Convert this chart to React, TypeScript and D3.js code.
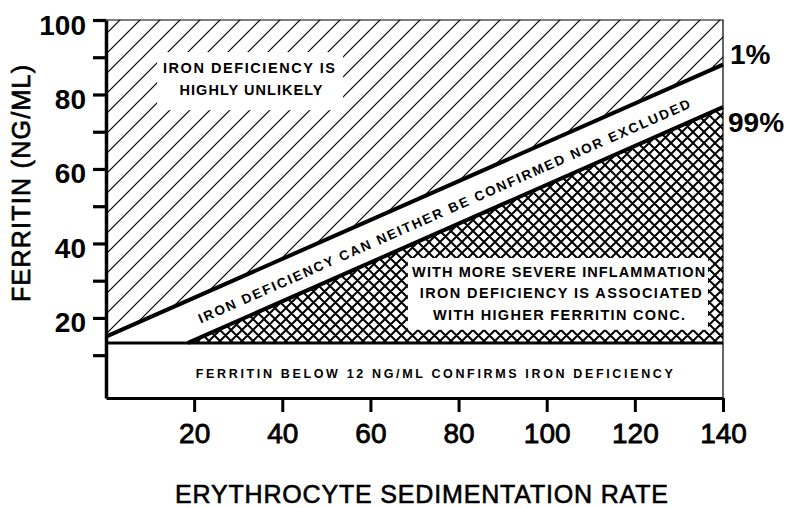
import React, { useEffect, useRef } from "react";
import * as d3 from "d3";

// ESR axis
const esrTicks = [20, 40, 60, 80, 100, 120, 140];
// ferritin axis
const ferritinTicks = [10, 20, 30, 40, 50, 60, 70, 80, 90, 100];
const ferritinLabels = [20, 40, 60, 80, 100];

// 1% line (upper boundary)
const upperEsr = [0, 140];
const upperFerritin = [15, 88];
// 99% line (lower boundary)
const lowerEsr = [18.6, 140];
const lowerFerritin = [13.3, 76.6];
// ferritin cut-off line
const cutoffFerritin = 13.3;

const FONT = "'Liberation Sans', Arial, Helvetica, sans-serif";

export default function App() {
    const ref = useRef<SVGSVGElement>(null);

    useEffect(() => {
        drawChart();
    }, []);

    function drawChart() {
        const svg = d3.select(ref.current);
        svg.selectAll("*").remove();

        const x = d3.scaleLinear().domain([0, 140]).range([106, 723]);
        const y = d3.scaleLinear().domain([-1.5, 100]).range([398, 20]);

        const defs = svg.append("defs");

        const hatch = defs.append("pattern")
            .attr("id", "hatch")
            .attr("patternUnits", "userSpaceOnUse")
            .attr("width", 20)
            .attr("height", 20);
        hatch.append("path")
            .attr("d", "M-2,2 L2,-2 M0,20 L20,0 M18,22 L22,18")
            .attr("stroke", "#000")
            .attr("stroke-width", 1.2);

        const cross = defs.append("pattern")
            .attr("id", "cross")
            .attr("patternUnits", "userSpaceOnUse")
            .attr("width", 11)
            .attr("height", 11);
        cross.append("path")
            .attr("d", "M-1,1 L1,-1 M0,11 L11,0 M10,12 L12,10 M-1,10 L1,12 M0,0 L11,11 M10,-1 L12,1")
            .attr("stroke", "#000")
            .attr("stroke-width", 2);

        const line = d3.line<number[]>()
            .x(d => x(d[0]))
            .y(d => y(d[1]));

        const upperPts = upperEsr.map((e, i) => [e, upperFerritin[i]]);
        const lowerPts = lowerEsr.map((e, i) => [e, lowerFerritin[i]]);

        // hatched region above 1% line
        svg.append("path")
            .attr("d", line([[0, 100], [140, 100], ...upperPts.slice().reverse()]) + "Z")
            .attr("fill", "url(#hatch)");

        // cross-hatched region below 99% line
        svg.append("path")
            .attr("d", line([...lowerPts, [140, cutoffFerritin]]) + "Z")
            .attr("fill", "url(#cross)");

        // white label boxes
        const boxes = [
            [11.6, 53.8, 75.8, 91.4],
            [68.5, 136.6, 16.8, 36.1]
        ];
        svg.selectAll(".box")
            .data(boxes)
            .enter()
            .append("rect")
            .attr("x", d => x(d[0]))
            .attr("width", d => x(d[1]) - x(d[0]))
            .attr("y", d => y(d[3]))
            .attr("height", d => y(d[2]) - y(d[3]))
            .attr("fill", "#fff");

        // frame: thin top/right
        svg.append("path")
            .attr("d", `M${x(0)},${y(100)} H${x(140)} V${y(-1.5)}`)
            .attr("fill", "none")
            .attr("stroke", "#000")
            .attr("stroke-width", 1.2);

        // boundary lines
        svg.append("path")
            .attr("d", line(upperPts))
            .attr("fill", "none")
            .attr("stroke", "#000")
            .attr("stroke-width", 4);
        svg.append("path")
            .attr("d", line(lowerPts))
            .attr("fill", "none")
            .attr("stroke", "#000")
            .attr("stroke-width", 4);
        svg.append("path")
            .attr("d", line([[0, cutoffFerritin], [140, cutoffFerritin]]))
            .attr("fill", "none")
            .attr("stroke", "#000")
            .attr("stroke-width", 3);

        // axes
        const yAxis = d3.axisLeft(y)
            .tickValues(ferritinTicks)
            .tickSize(13)
            .tickSizeOuter(0)
            .tickPadding(7)
            .tickFormat(d => (ferritinLabels.includes(+d) ? String(d) : ""));
        const gy = svg.append("g")
            .attr("transform", `translate(${x(0)},0)`)
            .call(yAxis);
        gy.select(".domain").attr("stroke-width", 3.5);
        gy.selectAll(".tick line").attr("stroke-width", 3.2);
        gy.selectAll(".tick text")
            .attr("font-family", FONT)
            .attr("font-size", 28)
            .attr("font-weight", "bold")
            .attr("dy", 14);

        const xAxis = d3.axisBottom(x)
            .tickValues(esrTicks)
            .tickSize(14)
            .tickSizeOuter(0)
            .tickPadding(11);
        const gx = svg.append("g")
            .attr("transform", `translate(0,${y(-1.5)})`)
            .call(xAxis);
        gx.select(".domain").attr("stroke-width", 3);
        gx.selectAll(".tick line").attr("stroke-width", 3);
        gx.selectAll(".tick text")
            .attr("font-family", FONT)
            .attr("font-size", 28)
            .attr("font-weight", "normal")
            .attr("stroke", "#000")
            .attr("stroke-width", 0.8)
            .attr("dy", "0.71em");

        // texts
        const text = (t: string, cx: number, cy: number, size: number, len: number, weight = "bold") =>
            svg.append("text")
                .attr("x", cx)
                .attr("y", cy)
                .attr("text-anchor", "middle")
                .attr("font-family", FONT)
                .attr("font-size", size)
                .attr("font-weight", weight)
                .attr("textLength", len)
                .attr("lengthAdjust", "spacing")
                .text(t);

        text("IRON DEFICIENCY IS", x(32.45), y(85.8), 14.5, 172);
        text("HIGHLY UNLIKELY", x(32.9), y(79.9), 14.5, 143);

        text("WITH MORE SEVERE INFLAMMATION", x(102.7), y(31.0), 14.5, 293);
        text("IRON DEFICIENCY IS ASSOCIATED", x(103.2), y(25.4), 14.5, 282);
        text("WITH HIGHER FERRITIN CONC.", x(102.8), y(19.5), 14.5, 252);

        text("FERRITIN BELOW 12 NG/ML CONFIRMS IRON DEFICIENCY", x(74.5), y(3.9), 12.5, 477);

        const angle = Math.atan2(
            y(upperFerritin[1]) - y(upperFerritin[0]),
            x(upperEsr[1]) - x(upperEsr[0])
        ) * 180 / Math.PI;
        const bx = x(76.7), by = y(48.7);
        text("IRON DEFICIENCY CAN NEITHER BE CONFIRMED NOR EXCLUDED", bx, by, 13.5, 536)
            .attr("dy", 4.8)
            .attr("transform", `rotate(${angle},${bx},${by})`);

        // percentile labels
        svg.append("text")
            .attr("x", x(140) + 7)
            .attr("y", y(upperFerritin[1]) - 1)
            .attr("font-family", FONT)
            .attr("font-size", 28)
            .attr("font-weight", "bold")
            .text("1%");
        svg.append("text")
            .attr("x", x(140) + 5)
            .attr("y", y(lowerFerritin[1]) + 25)
            .attr("font-family", FONT)
            .attr("font-size", 28)
            .attr("font-weight", "bold")
            .text("99%");

        // axis titles
        text("ERYTHROCYTE SEDIMENTATION RATE", 421.5, 503, 25, 493, "normal")
            .attr("stroke", "#000")
            .attr("stroke-width", 0.6);
        text("FERRITIN (NG/ML)", 0, 0, 25, 237, "normal")
            .attr("stroke", "#000")
            .attr("stroke-width", 0.7)
            .attr("dy", 9)
            .attr("transform", "translate(21,183.5) rotate(-90)");
    }

    return (
        <svg
            ref={ref}
            width={790}
            height={508}
            style={{ position: "absolute", left: 0, top: 0, background: "#fff" }}
        />
    );
}
